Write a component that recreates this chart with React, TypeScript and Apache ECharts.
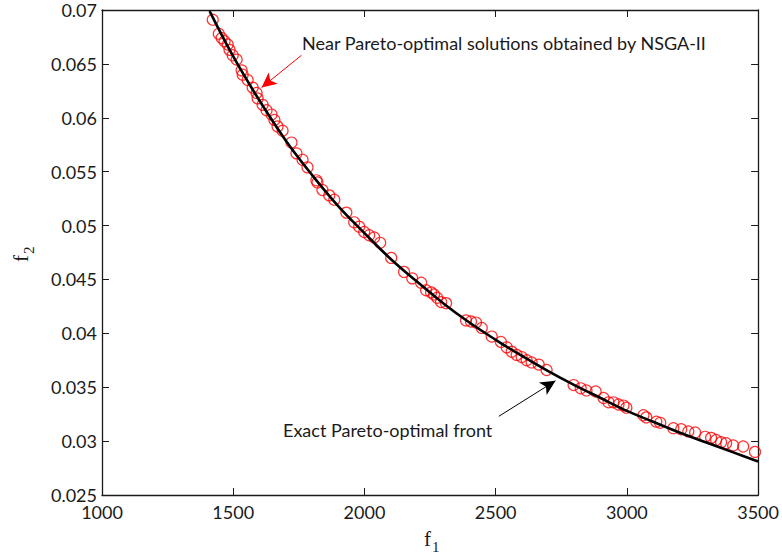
import React, { useEffect, useRef } from "react";
import * as echarts from "echarts";

// NSGA-II near Pareto-optimal solutions
const solF1 = [
  1422, 1445, 1456, 1467, 1479, 1486, 1498, 1513, 1532, 1536, 1555, 1574, 1589, 1593, 1612, 1627, 1646, 1657, 1669, 1688,
  1722, 1741, 1764, 1783, 1817, 1821, 1840, 1866, 1885, 1931, 1961, 1980, 1999, 2018, 2037, 2060,
  2102, 2151, 2182, 2216, 2235, 2254, 2265, 2277, 2292, 2311, 2387, 2406, 2425, 2447,
  2485, 2520, 2542, 2561, 2580, 2599, 2618, 2637, 2664, 2694, 2797, 2824, 2846, 2881,
  2911, 2930, 2949, 2968, 2987, 2998, 3063, 3074, 3112, 3127, 3177, 3207, 3234, 3260, 3298, 3321, 3340, 3359, 3378, 3405, 3443, 3488,
];
const solF2 = [
  0.0691, 0.0678, 0.0674, 0.0671, 0.0668, 0.0663, 0.0658, 0.0654, 0.0644, 0.064, 0.0635, 0.0628, 0.0623, 0.0618, 0.0612, 0.0607, 0.0603, 0.0598, 0.0592, 0.0588,
  0.0577, 0.0567, 0.0561, 0.0554, 0.0542, 0.054, 0.0533, 0.0528, 0.0524, 0.0512, 0.0503, 0.0499, 0.0494, 0.0491, 0.0489, 0.0484,
  0.047, 0.0457, 0.0451, 0.0447, 0.044, 0.0438, 0.0436, 0.0433, 0.0429, 0.0428, 0.0412, 0.0411, 0.041, 0.0405,
  0.0397, 0.0392, 0.0387, 0.0383, 0.038, 0.0378, 0.0375, 0.0373, 0.0371, 0.0366, 0.0352, 0.0349, 0.0347, 0.0346,
  0.034, 0.0336, 0.0336, 0.0334, 0.0333, 0.0331, 0.0324, 0.0322, 0.0318, 0.0317, 0.0312, 0.0311, 0.0309, 0.0308, 0.0304, 0.0303, 0.0301, 0.0299, 0.0298, 0.0296, 0.0295, 0.029,
];

// Exact Pareto-optimal front
const frontF1 = [1410, 1500, 1600, 1700, 1800, 1900, 2000, 2100, 2200, 2300, 2400, 2500, 2600, 2700, 2800, 2900, 3000, 3100, 3200, 3300, 3400, 3500];
const frontF2 = [0.0699, 0.0657, 0.0616, 0.0579, 0.0547, 0.0518, 0.0493, 0.0469, 0.0448, 0.0428, 0.041, 0.0394, 0.0379, 0.0365, 0.0352, 0.034, 0.0328, 0.0318, 0.0308, 0.0299, 0.029, 0.0281];

// Annotation arrows (tail -> head, data coordinates)
const nsgaArrow = [[1760, 0.0658], [1608, 0.0628]];
const exactArrow = [[2512, 0.0323], [2728, 0.0356]];

const nsgaLabel = "Near Pareto-optimal solutions obtained by NSGA-II";
const exactLabel = "Exact Pareto-optimal front";

const xMin = 1000, xMax = 3500, xStep = 500;
const yMin = 0.025, yMax = 0.07, yStep = 0.005;

export default function App() {
  const ref = useRef<HTMLDivElement>(null);
  useEffect(() => {
    if (!ref.current) return;
    const chart = echarts.init(ref.current, null, { renderer: "svg" });
    const axisColor = "#1a1a1a";
    const labelFont = { fontFamily: "Lato", fontSize: 18, color: "#1a1a1a" };
    const baseX = {
      type: "value" as const,
      min: xMin, max: xMax, interval: xStep,
      splitLine: { show: false },
      axisLine: { show: true, lineStyle: { color: axisColor, width: 1.3 } },
      axisTick: { show: true, inside: true, length: 7, lineStyle: { color: axisColor, width: 1 } },
    };
    const baseY = {
      type: "value" as const,
      min: yMin, max: yMax, interval: yStep,
      splitLine: { show: false },
      axisLine: { show: true, lineStyle: { color: axisColor, width: 1.3 } },
      axisTick: { show: true, inside: true, length: 7, lineStyle: { color: axisColor, width: 1 } },
    };
    chart.setOption({
      animation: false,
      backgroundColor: "#ffffff",
      grid: { left: 102, top: 10, right: 22, bottom: 61, containLabel: false },
      xAxis: [
        { ...baseX, position: "bottom", axisLabel: { ...labelFont, margin: 8, formatter: (v: number) => String(v) } },
        { ...baseX, position: "top", axisLabel: { show: false } },
      ],
      yAxis: [
        {
          ...baseY, position: "left",
          axisLabel: { ...labelFont, margin: 5, formatter: (v: number) => String(+v.toFixed(3)) },
        },
        { ...baseY, position: "right", axisLabel: { show: false } },
      ],
      series: [
        {
          type: "scatter",
          data: solF1.map((x, i) => [x, solF2[i]]),
          symbol: "circle",
          symbolSize: 11,
          itemStyle: { color: "rgba(0,0,0,0)", borderColor: "#ff0000", borderWidth: 1.2 },
          z: 2,
          silent: true,
          markLine: {
            silent: true,
            symbol: ["none", "arrow"],
            symbolSize: [11, 15],
            label: { show: false },
            lineStyle: { color: "#ff0000", width: 1, type: "solid" },
            data: [[{ coord: nsgaArrow[0] }, { coord: nsgaArrow[1] }]],
          },
        },
        {
          type: "line",
          data: frontF1.map((x, i) => [x, frontF2[i]]),
          smooth: 0.4,
          showSymbol: false,
          lineStyle: { color: "#000000", width: 2.6 },
          z: 3,
          silent: true,
          markLine: {
            silent: true,
            symbol: ["none", "arrow"],
            symbolSize: [11, 15],
            label: { show: false },
            lineStyle: { color: "#000000", width: 1, type: "solid" },
            data: [[{ coord: exactArrow[0] }, { coord: exactArrow[1] }]],
          },
        },
      ],
      graphic: [
        {
          type: "text", left: 302, top: 34,
          style: { text: nsgaLabel, fontFamily: "Lato", fontSize: 18, fill: "#1a1a1a" },
        },
        {
          type: "text", left: 283, top: 421,
          style: { text: exactLabel, fontFamily: "Lato", fontSize: 18, fill: "#1a1a1a" },
        },
        {
          type: "text", left: 424, top: 528,
          style: { text: "f", fontFamily: "Liberation Serif", fontSize: 21, fill: "#1a1a1a" },
        },
        {
          type: "text", left: 432, top: 539,
          style: { text: "1", fontFamily: "Liberation Serif", fontSize: 15, fill: "#1a1a1a" },
        },
        {
          type: "group", x: 10, y: 262, rotation: Math.PI / 2,
          children: [
            { type: "text", x: 0, y: 0, style: { text: "f", fontFamily: "Liberation Serif", fontSize: 21, fill: "#1a1a1a" } },
            { type: "text", x: 8, y: 11, style: { text: "2", fontFamily: "Liberation Serif", fontSize: 15, fill: "#1a1a1a" } },
          ],
        },
      ],
    });
    return () => chart.dispose();
  }, []);
  return (
    <div
      ref={ref}
      style={{ position: "absolute", left: 0, top: 0, width: 782, height: 556, background: "#fff" }}
    />
  );
}
